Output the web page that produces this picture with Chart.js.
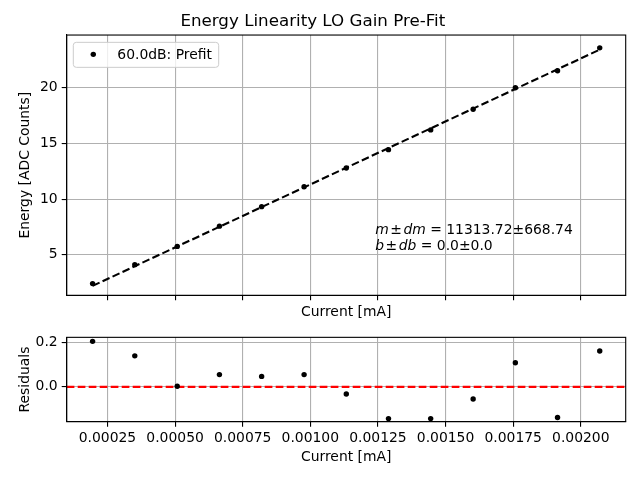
<!DOCTYPE html>
<html>
<head>
<meta charset="utf-8">
<script src="https://cdn.jsdelivr.net/npm/chart.js@4"></script>
<style>
  body { margin: 0; background: #fff; }
  #top { position: absolute; left: 0; top: 0; }
  #bottom { position: absolute; left: 0; top: 325px; }
</style>
</head>
<body>
<canvas id="top" width="640" height="325"></canvas>
<canvas id="bottom" width="640" height="155"></canvas>
<script>
// values
const current = [0.000195, 0.000351, 0.000508, 0.000664, 0.00082, 0.000977, 0.001133,
  0.001289, 0.001445, 0.001602, 0.001758, 0.001914, 0.00207];
const energy = [2.41, 4.11, 5.75, 7.57, 9.32, 11.11, 12.79, 14.44, 16.21, 18.07, 20.0, 21.52, 23.58];
const residuals = [0.204, 0.139, 0.003, 0.055, 0.047, 0.055, -0.032, -0.142, -0.142, -0.054, 0.108, -0.137, 0.161];
const slope = 11313.72, slopeErr = 668.74, intercept = 0.0, interceptErr = 0.0;

const currentTicks = [0.00025, 0.0005, 0.00075, 0.001, 0.00125, 0.0015, 0.00175, 0.002];
const energyTicks = [5, 10, 15, 20];
const residualTicks = [0.0, 0.2];
const currentRange = [0.0000993, 0.002166];
const energyRange = [1.36, 24.73];
const residualRange = [-0.156, 0.222];

Chart.defaults.font.family = "'DejaVu Sans', sans-serif";
Chart.defaults.font.size = 13.9;
Chart.defaults.color = '#000';
Chart.defaults.animation = false;

const GRID = '#b0b0b0';

const frame = {
  id: 'frame',
  afterDraw(chart) {
    const { ctx, chartArea: a } = chart;
    ctx.save();
    ctx.strokeStyle = '#000';
    ctx.lineWidth = 1.1;
    ctx.strokeRect(a.left, a.top, a.right - a.left, a.bottom - a.top);
    ctx.restore();
  }
};

// legend box in the upper left, like matplotlib
const boxLegend = {
  id: 'boxLegend',
  afterDraw(chart) {
    const { ctx, chartArea: a } = chart;
    const x = a.left + 6.6, y = a.top + 7.3, w = 145.4, h = 25;
    ctx.save();
    ctx.fillStyle = 'rgba(255,255,255,0.8)';
    ctx.strokeStyle = '#cccccc';
    ctx.lineWidth = 1;
    ctx.beginPath();
    ctx.roundRect(x, y, w, h, 3);
    ctx.fill();
    ctx.stroke();
    ctx.fillStyle = '#000';
    ctx.beginPath();
    ctx.arc(x + 20, y + 12, 2.7, 0, Math.PI * 2);
    ctx.fill();
    ctx.font = "13.9px 'DejaVu Sans'";
    ctx.textBaseline = 'middle';
    ctx.fillText(chart.data.datasets[0].label, x + 44, y + 13);
    ctx.restore();
  }
};

// fit result text with italic symbols (mathtext-like spacing)
const fitText = {
  id: 'fitText',
  afterDraw(chart) {
    const { ctx, chartArea: a } = chart;
    const x0 = a.left + 0.552 * (a.right - a.left);
    const lines = [
      [['m', true, 1.5], ['\u00b1', false, 1.5], ['dm', true, 0], [' = ' + slope.toFixed(2) + '\u00b1' + slopeErr.toFixed(2), false, 0]],
      [['b', true, 1.5], ['\u00b1', false, 1.5], ['db', true, 0], [' = ' + intercept.toFixed(1) + '\u00b1' + interceptErr.toFixed(1), false, 0]]
    ];
    const ys = [a.top + 0.752 * (a.bottom - a.top), a.top + 0.812 * (a.bottom - a.top)];
    ctx.save();
    ctx.fillStyle = '#000';
    ctx.textBaseline = 'middle';
    lines.forEach((parts, i) => {
      let x = x0;
      parts.forEach(([t, it, gap]) => {
        ctx.font = (it ? 'italic ' : '') + "13.9px 'DejaVu Sans'";
        ctx.fillText(t, x, ys[i]);
        x += ctx.measureText(t).width + gap;
      });
    });
    ctx.restore();
  }
};

function xScale(showLabels, height, titlePad) {
  return {
    type: 'linear',
    min: currentRange[0],
    max: currentRange[1],
    afterBuildTicks: s => { s.ticks = currentTicks.map(v => ({ value: v })); },
    afterFit: s => { s.height = height; },
    ticks: { display: showLabels, padding: 3, maxRotation: 0, callback: v => v.toFixed(5) },
    grid: { color: GRID, lineWidth: 1.1, tickColor: '#000', tickLength: 5, tickWidth: 1.1 },
    border: { color: '#000', width: 1.1 },
    title: { display: true, text: 'Current [mA]', padding: { top: 0, bottom: titlePad } }
  };
}

function yScale(range, ticks, digits, label) {
  return {
    min: range[0],
    max: range[1],
    afterBuildTicks: s => { s.ticks = ticks.map(v => ({ value: v })); },
    afterFit: s => { s.width = 66.7; },
    ticks: { padding: 4, callback: v => digits === null ? String(v) : v.toFixed(digits) },
    grid: { color: GRID, lineWidth: 1.1, tickColor: '#000', tickLength: 5, tickWidth: 1.1 },
    border: { color: '#000', width: 1.1 },
    title: { display: true, text: label, padding: { top: 17, bottom: 0 } }
  };
}

const fitEnds = [current[0], current[current.length - 1]];

new Chart(document.getElementById('top'), {
  type: 'scatter',
  data: {
    datasets: [
      {
        label: '60.0dB: Prefit',
        data: current.map((x, i) => ({ x: x, y: energy[i] })),
        backgroundColor: '#000',
        borderWidth: 0,
        pointRadius: 2.7
      },
      {
        type: 'line',
        label: 'fit',
        data: fitEnds.map(x => ({ x: x, y: slope * x + intercept })),
        borderColor: '#000',
        borderWidth: 2.1,
        borderDash: [7.7, 3.3],
        pointRadius: 0,
        fill: false
      }
    ]
  },
  options: {
    responsive: false,
    layout: { padding: { left: 0, right: 14.3, top: 0, bottom: 0 } },
    plugins: {
      legend: { display: false },
      tooltip: { enabled: false },
      title: {
        display: true,
        text: 'Energy Linearity LO Gain Pre-Fit',
        font: { size: 16.7, weight: 'normal' },
        padding: { top: 12, bottom: 3 }
      }
    },
    scales: {
      x: xScale(false, 29.7, 4.7),
      y: yScale(energyRange, energyTicks, null, 'Energy [ADC Counts]')
    }
  },
  plugins: [frame, boxLegend, fitText]
});

new Chart(document.getElementById('bottom'), {
  type: 'scatter',
  data: {
    datasets: [
      {
        label: 'Residuals',
        data: current.map((x, i) => ({ x: x, y: residuals[i] })),
        backgroundColor: '#000',
        borderWidth: 0,
        pointRadius: 2.7
      },
      {
        type: 'line',
        label: 'zero',
        data: currentRange.map(x => ({ x: x, y: 0 })),
        borderColor: '#ff0000',
        borderWidth: 2.1,
        borderDash: [7.7, 3.3],
        pointRadius: 0,
        fill: false
      }
    ]
  },
  options: {
    responsive: false,
    layout: { padding: { left: 0, right: 14.3, top: 10.5, bottom: 0 } },
    plugins: {
      legend: { display: false },
      tooltip: { enabled: false }
    },
    scales: {
      x: xScale(true, 58.3, 14.7),
      y: yScale(residualRange, residualTicks, 1, 'Residuals')
    }
  },
  plugins: [frame]
});
</script>
</body>
</html>
